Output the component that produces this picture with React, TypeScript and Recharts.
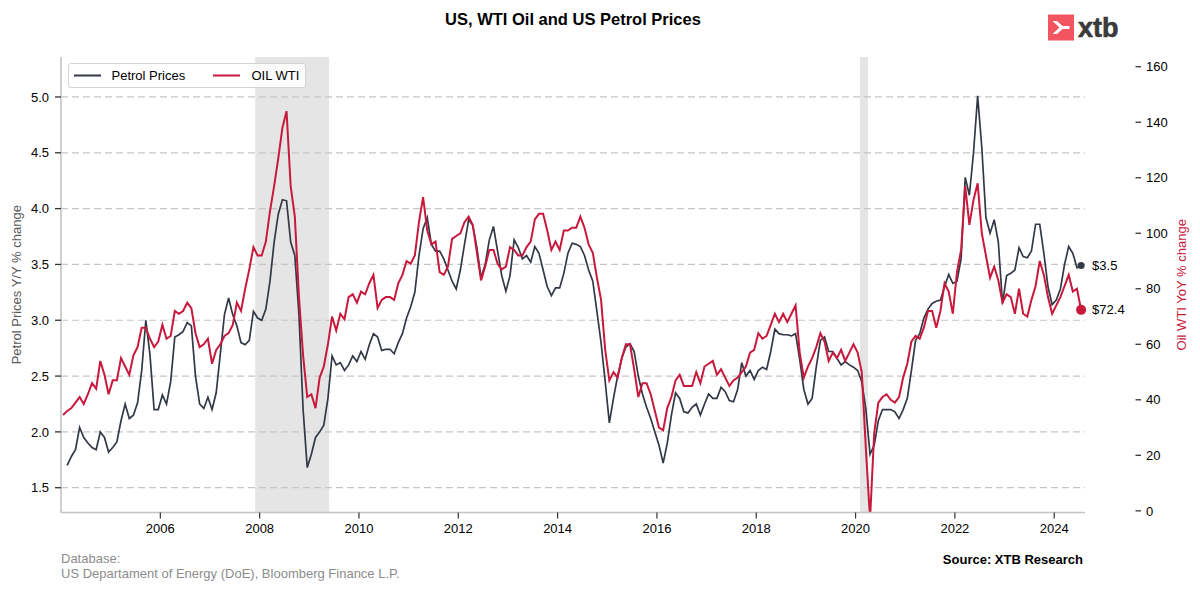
import React from 'react';
import {
  LineChart,
  Line,
  XAxis,
  YAxis,
  ReferenceLine,
  ReferenceArea,
  ReferenceDot,
} from 'recharts';

// ---------- texts ----------
const TITLE = 'US, WTI Oil and US Petrol Prices';
const PETROL_NAME = 'Petrol Prices';
const WTI_NAME = 'OIL WTI';
const LEFT_LABEL = 'Petrol Prices Y/Y % change';
const RIGHT_LABEL = 'Oil WTI YoY % change';
const SOURCE = 'Source: XTB Research';
const DATABASE_LINES = ['Database:', 'US Departament of Energy (DoE), Bloomberg Finance L.P.'];
const LOGO_TEXT = 'xtb';

// ---------- axes ----------
const START_YEAR = 2004; // monthly observations from January 2004
const X_DOMAIN = [2004.0, 2024.62];
const YEAR_TICKS = [2006, 2008, 2010, 2012, 2014, 2016, 2018, 2020, 2022, 2024];
const LEFT_TICKS = [1.5, 2.0, 2.5, 3.0, 3.5, 4.0, 4.5, 5.0];
const LEFT_DOMAIN = [1.278, 5.358];
const RIGHT_TICKS = [0, 20, 40, 60, 80, 100, 120, 140, 160];
const RIGHT_DOMAIN = [-0.6, 163.5];
const RECESSIONS = [
  [2007.91, 2009.4],
  [2020.09, 2020.25],
];

// ---------- data (monthly, Jan 2004 – Jul 2024) ----------
const PETROL_PRICES = [
  null, 1.70, 1.78, 1.84, 2.04, 1.95, 1.90, 1.86, 1.84, 2.00, 1.95, 1.82, // 2004
  1.86, 1.91, 2.10, 2.25, 2.12, 2.15, 2.26, 2.55, 3.00, 2.69, 2.20, 2.20, // 2005
  2.33, 2.25, 2.45, 2.85, 2.87, 2.90, 2.98, 2.95, 2.50, 2.25, 2.21, 2.31, // 2006
  2.20, 2.35, 2.70, 3.05, 3.20, 3.05, 2.95, 2.80, 2.78, 2.82, 3.08, 3.02, // 2007
  3.00, 3.10, 3.35, 3.70, 3.95, 4.08, 4.07, 3.70, 3.58, 3.05, 2.20, 1.68, // 2008
  1.80, 1.95, 2.00, 2.06, 2.30, 2.68, 2.60, 2.62, 2.55, 2.60, 2.68, 2.63, // 2009
  2.72, 2.65, 2.78, 2.88, 2.85, 2.73, 2.74, 2.74, 2.70, 2.80, 2.88, 3.02, // 2010
  3.12, 3.25, 3.58, 3.82, 3.92, 3.68, 3.62, 3.62, 3.55, 3.45, 3.35, 3.28, // 2011
  3.45, 3.68, 3.90, 3.85, 3.65, 3.38, 3.50, 3.72, 3.84, 3.62, 3.40, 3.26, // 2012
  3.40, 3.72, 3.65, 3.55, 3.58, 3.52, 3.66, 3.60, 3.45, 3.30, 3.22, 3.29, // 2013
  3.29, 3.42, 3.60, 3.69, 3.68, 3.66, 3.58, 3.45, 3.35, 3.08, 2.80, 2.45, // 2014
  2.08, 2.30, 2.50, 2.66, 2.76, 2.79, 2.72, 2.50, 2.34, 2.22, 2.12, 2.00, // 2015
  1.88, 1.72, 1.90, 2.15, 2.35, 2.30, 2.18, 2.17, 2.22, 2.25, 2.15, 2.25, // 2016
  2.34, 2.30, 2.30, 2.40, 2.36, 2.28, 2.27, 2.38, 2.62, 2.50, 2.55, 2.47, // 2017
  2.55, 2.58, 2.56, 2.72, 2.92, 2.88, 2.87, 2.87, 2.86, 2.88, 2.65, 2.38, // 2018
  2.25, 2.30, 2.58, 2.82, 2.85, 2.72, 2.72, 2.66, 2.60, 2.63, 2.60, 2.58, // 2019
  2.55, 2.45, 2.20, 1.80, 1.88, 2.10, 2.20, 2.20, 2.20, 2.18, 2.12, 2.20, // 2020
  2.30, 2.55, 2.82, 2.88, 3.02, 3.10, 3.15, 3.17, 3.18, 3.30, 3.41, 3.33, // 2021
  3.35, 3.55, 4.28, 4.12, 4.50, 5.01, 4.55, 3.92, 3.78, 3.90, 3.70, 3.15, // 2022
  3.40, 3.42, 3.45, 3.65, 3.57, 3.56, 3.62, 3.86, 3.86, 3.60, 3.30, 3.14, // 2023
  3.18, 3.28, 3.50, 3.66, 3.60, 3.47, 3.49, // 2024
];

const OIL_WTI = [
  34.5, 36, 37, 39, 41, 38.5, 42, 46, 44, 54, 49, 42, // 2004
  47, 47, 55, 52, 49, 56, 59, 66, 66, 62, 59, 61, // 2005
  67, 62, 63, 72, 71, 72, 75, 73, 64, 59, 60, 62, // 2006
  53, 58, 60, 63, 64, 67, 75, 72, 80, 87, 95, 92, // 2007
  92, 97, 108, 117, 127, 138, 144, 117, 106, 77, 56, 41, // 2008
  42, 37, 48, 52, 60, 70, 65, 71, 69, 77, 78, 75, // 2009
  79, 78, 82, 85, 73, 76, 77, 77, 76, 82, 85, 90, // 2010
  89, 92, 104, 113, 101, 96, 97, 86, 85, 88, 98, 99, // 2011
  100, 104, 106, 103, 93, 83, 88, 94, 94, 89, 87, 88, // 2012
  95, 94, 92, 92, 95, 97, 105, 107, 107, 101, 94, 97, // 2013
  94, 101, 101, 102, 102, 106, 102, 96, 93, 84, 76, 58, // 2014
  47, 50, 48, 55, 60, 60, 51, 41, 46, 46, 42, 36, // 2015
  30, 29, 37, 41, 47, 49, 45, 45, 45, 50, 46, 52, // 2016
  53, 54, 49, 51, 48, 45, 47, 48, 50, 52, 57, 58, // 2017
  64, 62, 63, 67, 71, 68, 71, 68, 71, 74, 57, 48, // 2018
  52, 55, 59, 64, 61, 54, 57, 55, 58, 54, 57, 60, // 2019
  57, 50, 22, -3, 28, 39, 41, 42, 40, 39, 41, 48, // 2020
  53, 61, 63, 62, 66, 72, 72, 66, 72, 82, 79, 71, // 2021
  86, 94, 117, 103, 112, 118, 100, 92, 84, 88, 83, 75, // 2022
  78, 77, 71, 80, 71, 70, 76, 81, 90, 85, 77, 71, // 2023
  74, 77, 81, 85, 79, 80, 72.4, // 2024
];

// ---------- styles ----------
const FONT = '"Liberation Sans", Arial, Helvetica, sans-serif';
const PETROL_COLOR = '#323846';
const WTI_COLOR = '#c8193c';
const SPINE_COLOR = '#c4c4c4';
const GRID_COLOR = '#c6c6c6';
const TICK_COLOR = '#333333';

const rows = PETROL_PRICES.map((p, i) => ({
  t: START_YEAR + (i + 0.5) / 12,
  petrol: p,
  wti: OIL_WTI[i],
}));
const last = rows[rows.length - 1];

const RightTick = (props: any) => {
  const { x, y, payload } = props;
  return (
    <g>
      <line x1={x + 50.5} x2={x + 56} y1={y} y2={y} stroke={TICK_COLOR} strokeWidth={1.3} />
      <text x={x + 61} y={y} dy="0.36em" fontSize={13} fill="#000" fontFamily={FONT}>
        {payload.value}
      </text>
    </g>
  );
};

const LEGEND_ITEMS = [
  { name: PETROL_NAME, color: PETROL_COLOR, lx: 5, tx: 43 },
  { name: WTI_NAME, color: WTI_COLOR, lx: 144, tx: 183 },
];

export default function App() {
  return (
    <div
      style={{
        position: 'absolute',
        left: 0,
        top: 0,
        width: 1200,
        height: 593,
        background: '#fff',
        fontFamily: FONT,
        overflow: 'hidden',
      }}
    >
      <LineChart
        width={1200}
        height={593}
        data={rows}
        margin={{ top: 57, right: 0, bottom: 50.5, left: 0 }}
        style={{ fontFamily: FONT }}
      >
        {RECESSIONS.map(([a, b], i) => (
          <ReferenceArea
            key={`rec-${i}`}
            yAxisId="left"
            x1={a}
            x2={b}
            fill="#7f7f7f"
            fillOpacity={0.2}
            stroke="none"
          />
        ))}
        {LEFT_TICKS.map((t) => (
          <ReferenceLine
            key={`grid-${t}`}
            yAxisId="left"
            y={t}
            stroke={GRID_COLOR}
            strokeDasharray="7 4"
            strokeWidth={1.2}
          />
        ))}
        <XAxis
          dataKey="t"
          type="number"
          domain={X_DOMAIN}
          ticks={YEAR_TICKS}
          allowDataOverflow
          height={30}
          tickFormatter={(v: number) => String(Math.round(v))}
          axisLine={{ stroke: SPINE_COLOR, strokeWidth: 1.6 }}
          tickLine={{ stroke: TICK_COLOR, strokeWidth: 1.2 }}
          tickSize={6}
          tickMargin={5}
          tick={{ fill: '#000', fontSize: 13, fontFamily: FONT }}
        />
        <YAxis
          yAxisId="left"
          orientation="left"
          width={61}
          domain={LEFT_DOMAIN}
          ticks={LEFT_TICKS}
          allowDataOverflow
          tickFormatter={(v: number) => v.toFixed(1)}
          axisLine={{ stroke: SPINE_COLOR, strokeWidth: 1.6 }}
          tickLine={{ stroke: TICK_COLOR, strokeWidth: 1.3 }}
          tickSize={6}
          tickMargin={6}
          tick={{ fill: '#000', fontSize: 13, fontFamily: FONT }}
          label={{
            value: LEFT_LABEL,
            angle: -90,
            position: 'center',
            dx: -14.5,
            fill: '#595959',
            fontSize: 13,
            fontFamily: FONT,
          }}
        />
        <YAxis
          yAxisId="right"
          orientation="right"
          width={115}
          domain={RIGHT_DOMAIN}
          ticks={RIGHT_TICKS}
          allowDataOverflow
          axisLine={false}
          tickLine={false}
          tickSize={0}
          tickMargin={0}
          tick={<RightTick />}
          label={{
            value: RIGHT_LABEL,
            angle: -90,
            position: 'center',
            dx: 38.5,
            fill: WTI_COLOR,
            fontSize: 13,
            fontFamily: FONT,
          }}
        />
        <Line
          yAxisId="left"
          dataKey="petrol"
          name={PETROL_NAME}
          type="linear"
          stroke={PETROL_COLOR}
          strokeWidth={1.7}
          dot={false}
          activeDot={false}
          isAnimationActive={false}
        />
        <Line
          yAxisId="right"
          dataKey="wti"
          name={WTI_NAME}
          type="linear"
          stroke={WTI_COLOR}
          strokeWidth={2}
          strokeLinejoin="miter"
          dot={false}
          activeDot={false}
          isAnimationActive={false}
        />
        <ReferenceDot
          yAxisId="left"
          x={last.t}
          y={last.petrol as number}
          r={3.5}
          fill={PETROL_COLOR}
          stroke="none"
          label={{
            value: `$${(last.petrol as number).toFixed(1)}`,
            position: 'right',
            offset: 7.5,
            fill: '#000',
            fontSize: 13,
            fontFamily: FONT,
          }}
        />
        <ReferenceDot
          yAxisId="right"
          x={last.t}
          y={last.wti}
          r={5}
          fill={WTI_COLOR}
          stroke="none"
          label={{
            value: `$${last.wti.toFixed(1)}`,
            position: 'right',
            offset: 6,
            fill: '#000',
            fontSize: 13,
            fontFamily: FONT,
          }}
        />
      </LineChart>

      {/* title */}
      <div
        style={{
          position: 'absolute',
          left: 61,
          width: 1024,
          top: 10,
          textAlign: 'center',
          fontWeight: 'bold',
          fontSize: 16.5,
          lineHeight: '18px',
          color: '#000',
        }}
      >
        {TITLE}
      </div>

      {/* logo */}
      <svg
        style={{ position: 'absolute', left: 1046, top: 12 }}
        width={80}
        height={32}
        viewBox="0 0 80 32"
      >
        <rect x={2} y={2.5} width={26} height={26} fill="#f2555f" />
        <path
          d="M6.5 9 L13.5 15.5 L6.5 22 L11 22 L16.5 17 L23.5 17 L23.5 14 L16.5 14 L11 9 Z"
          fill="#fff"
        />
        <text
          x={32}
          y={24.5}
          fontSize={27}
          fontWeight="bold"
          fill="#3a3a3a"
          stroke="#3a3a3a"
          strokeWidth={0.6}
          fontFamily={FONT}
        >
          {LOGO_TEXT}
        </text>
      </svg>

      {/* legend */}
      <div
        style={{
          position: 'absolute',
          left: 67.5,
          top: 63,
          width: 236,
          height: 23,
          border: '1px solid #d4d4d4',
          borderRadius: 3,
          background: 'rgba(255,255,255,0.85)',
          fontSize: 13,
          color: '#000',
        }}
      >
        <svg style={{ position: 'absolute', left: 0, top: 0 }} width={236} height={23}>
          {LEGEND_ITEMS.map((it) => (
            <line
              key={it.name}
              x1={it.lx}
              x2={it.lx + 27}
              y1={11.5}
              y2={11.5}
              stroke={it.color}
              strokeWidth={2}
            />
          ))}
        </svg>
        {LEGEND_ITEMS.map((it) => (
          <div
            key={it.name}
            style={{
              position: 'absolute',
              left: it.tx,
              top: 3.5,
              lineHeight: '15px',
              whiteSpace: 'nowrap',
            }}
          >
            {it.name}
          </div>
        ))}
      </div>

      {/* footer */}
      <div
        style={{
          position: 'absolute',
          left: 61,
          top: 551,
          fontSize: 13,
          lineHeight: '15px',
          color: '#8c8c8c',
          whiteSpace: 'nowrap',
        }}
      >
        {DATABASE_LINES.map((l) => (
          <div key={l}>{l}</div>
        ))}
      </div>
      <div
        style={{
          position: 'absolute',
          right: 117,
          top: 552,
          fontSize: 13,
          lineHeight: '15px',
          fontWeight: 'bold',
          color: '#000',
          whiteSpace: 'nowrap',
        }}
      >
        {SOURCE}
      </div>
    </div>
  );
}
